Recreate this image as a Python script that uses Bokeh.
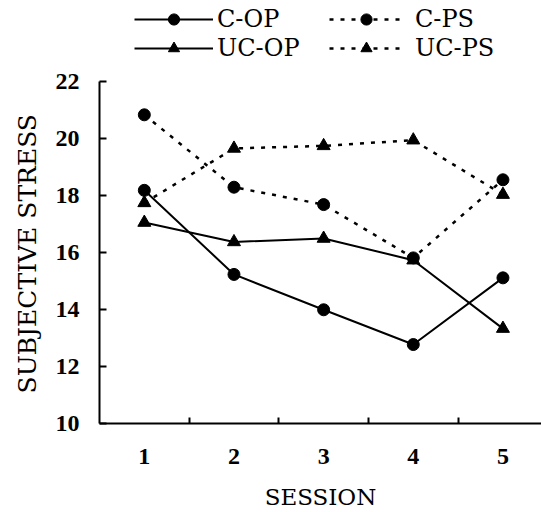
from bokeh.plotting import figure
from bokeh.models import FixedTicker, Legend, LegendItem, Range1d, Title
from bokeh.embed import file_html
from bokeh.resources import INLINE

# Data
sessions = [1, 2, 3, 4, 5]
c_op = [18.18, 15.23, 13.99, 12.77, 15.11]
c_ps = [20.83, 18.29, 17.68, 15.81, 18.55]
uc_op = [17.05, 16.37, 16.49, 15.73, 13.33]
uc_ps = [17.74, 19.65, 19.74, 19.94, 18.03]

y_ticks = [10, 12, 14, 16, 18, 20, 22]
y_bounds = (10, 22)
x_ticks = [1, 2, 3, 4, 5]
x_dividers = [1.5, 2.5, 3.5, 4.5]

TEXT_FONT = "DejaVu Serif"
NUM_FONT = "Liberation Serif"

# frame reaches the top of the canvas so the legend (drawn above the
# y-axis bounds) is not clipped; the y axis itself is limited to 10..22
p = figure(width=541, height=512, output_backend="svg", toolbar_location=None,
           x_range=Range1d(0.5, 5.43), y_range=Range1d(10, 24.84),
           min_border_left=99, min_border_right=0, min_border_top=0,
           min_border_bottom=89)
p.outline_line_color = None
p.grid.visible = False

DASH = "4 7"

r_cop = p.line(sessions, c_op, line_color="black", line_width=2)
r_ucop = p.line(sessions, uc_op, line_color="black", line_width=2)
r_cps = p.line(sessions, c_ps, line_color="black", line_width=2.5, line_dash=DASH)
r_ucps = p.line(sessions, uc_ps, line_color="black", line_width=2.5, line_dash=DASH)

s_cop = p.scatter(sessions, c_op, marker="circle", size=12, color="black")
s_cps = p.scatter(sessions, c_ps, marker="circle", size=12, color="black")
s_ucop = p.scatter(sessions, uc_op, marker="triangle", size=13, color="black")
s_ucps = p.scatter(sessions, uc_ps, marker="triangle", size=13, color="black")

# Axes
xa = p.xaxis[0]
ya = p.yaxis[0]
xa.ticker = FixedTicker(ticks=x_ticks, minor_ticks=x_dividers)
ya.ticker = FixedTicker(ticks=y_ticks, minor_ticks=[])
ya.bounds = y_bounds

for ax in (xa, ya):
    ax.axis_line_width = 2
    ax.axis_line_color = "black"
    ax.major_tick_line_width = 2
    ax.minor_tick_line_width = 2
    ax.major_tick_line_color = "black"
    ax.minor_tick_line_color = "black"
    ax.major_label_text_font = NUM_FONT
    ax.major_label_text_font_style = "bold"
    ax.major_label_text_font_size = "24px"
    ax.major_label_text_color = "black"
    ax.axis_label_text_font = TEXT_FONT
    ax.axis_label_text_font_style = "normal"
    ax.axis_label_text_color = "black"

xa.major_tick_in = 0
xa.major_tick_out = 0
xa.minor_tick_in = 6
xa.minor_tick_out = 0
xa.major_label_standoff = 25
xa.axis_label = "SESSION"
xa.axis_label_text_font_size = "23px"
xa.axis_label_standoff = 17

ya.major_tick_in = 7
ya.major_tick_out = 0
ya.minor_tick_in = 0
ya.minor_tick_out = 0
ya.major_label_standoff = 20

# y-axis title, placed along the 10..22 span of the axis
ytitle = Title(text="SUBJECTIVE STRESS", align="left", offset=30, standoff=21,
               text_font=TEXT_FONT, text_font_size="25px",
               text_font_style="normal", text_color="black")
p.add_layout(ytitle, "left")


def make_legend(items, loc, glyph_w, standoff):
    return Legend(items=items, location=loc, orientation="vertical",
                  glyph_width=glyph_w, glyph_height=28, label_height=28,
                  label_standoff=standoff, spacing=1, padding=0, margin=0,
                  border_line_color=None, background_fill_alpha=0,
                  label_text_font=TEXT_FONT, label_text_font_size="24px",
                  label_text_color="black")


leg1 = make_legend([LegendItem(label="C-OP", renderers=[r_cop, s_cop]),
                    LegendItem(label="UC-OP", renderers=[r_ucop, s_ucop])],
                   (35, 361), 79, 4)
leg2 = make_legend([LegendItem(label="C-PS", renderers=[r_cps, s_cps]),
                    LegendItem(label="UC-PS", renderers=[r_ucps, s_ucps])],
                   (230, 361), 74, 12)
p.add_layout(leg1, "center")
p.add_layout(leg2, "center")

open("out.html", "w").write(file_html(p, INLINE))
